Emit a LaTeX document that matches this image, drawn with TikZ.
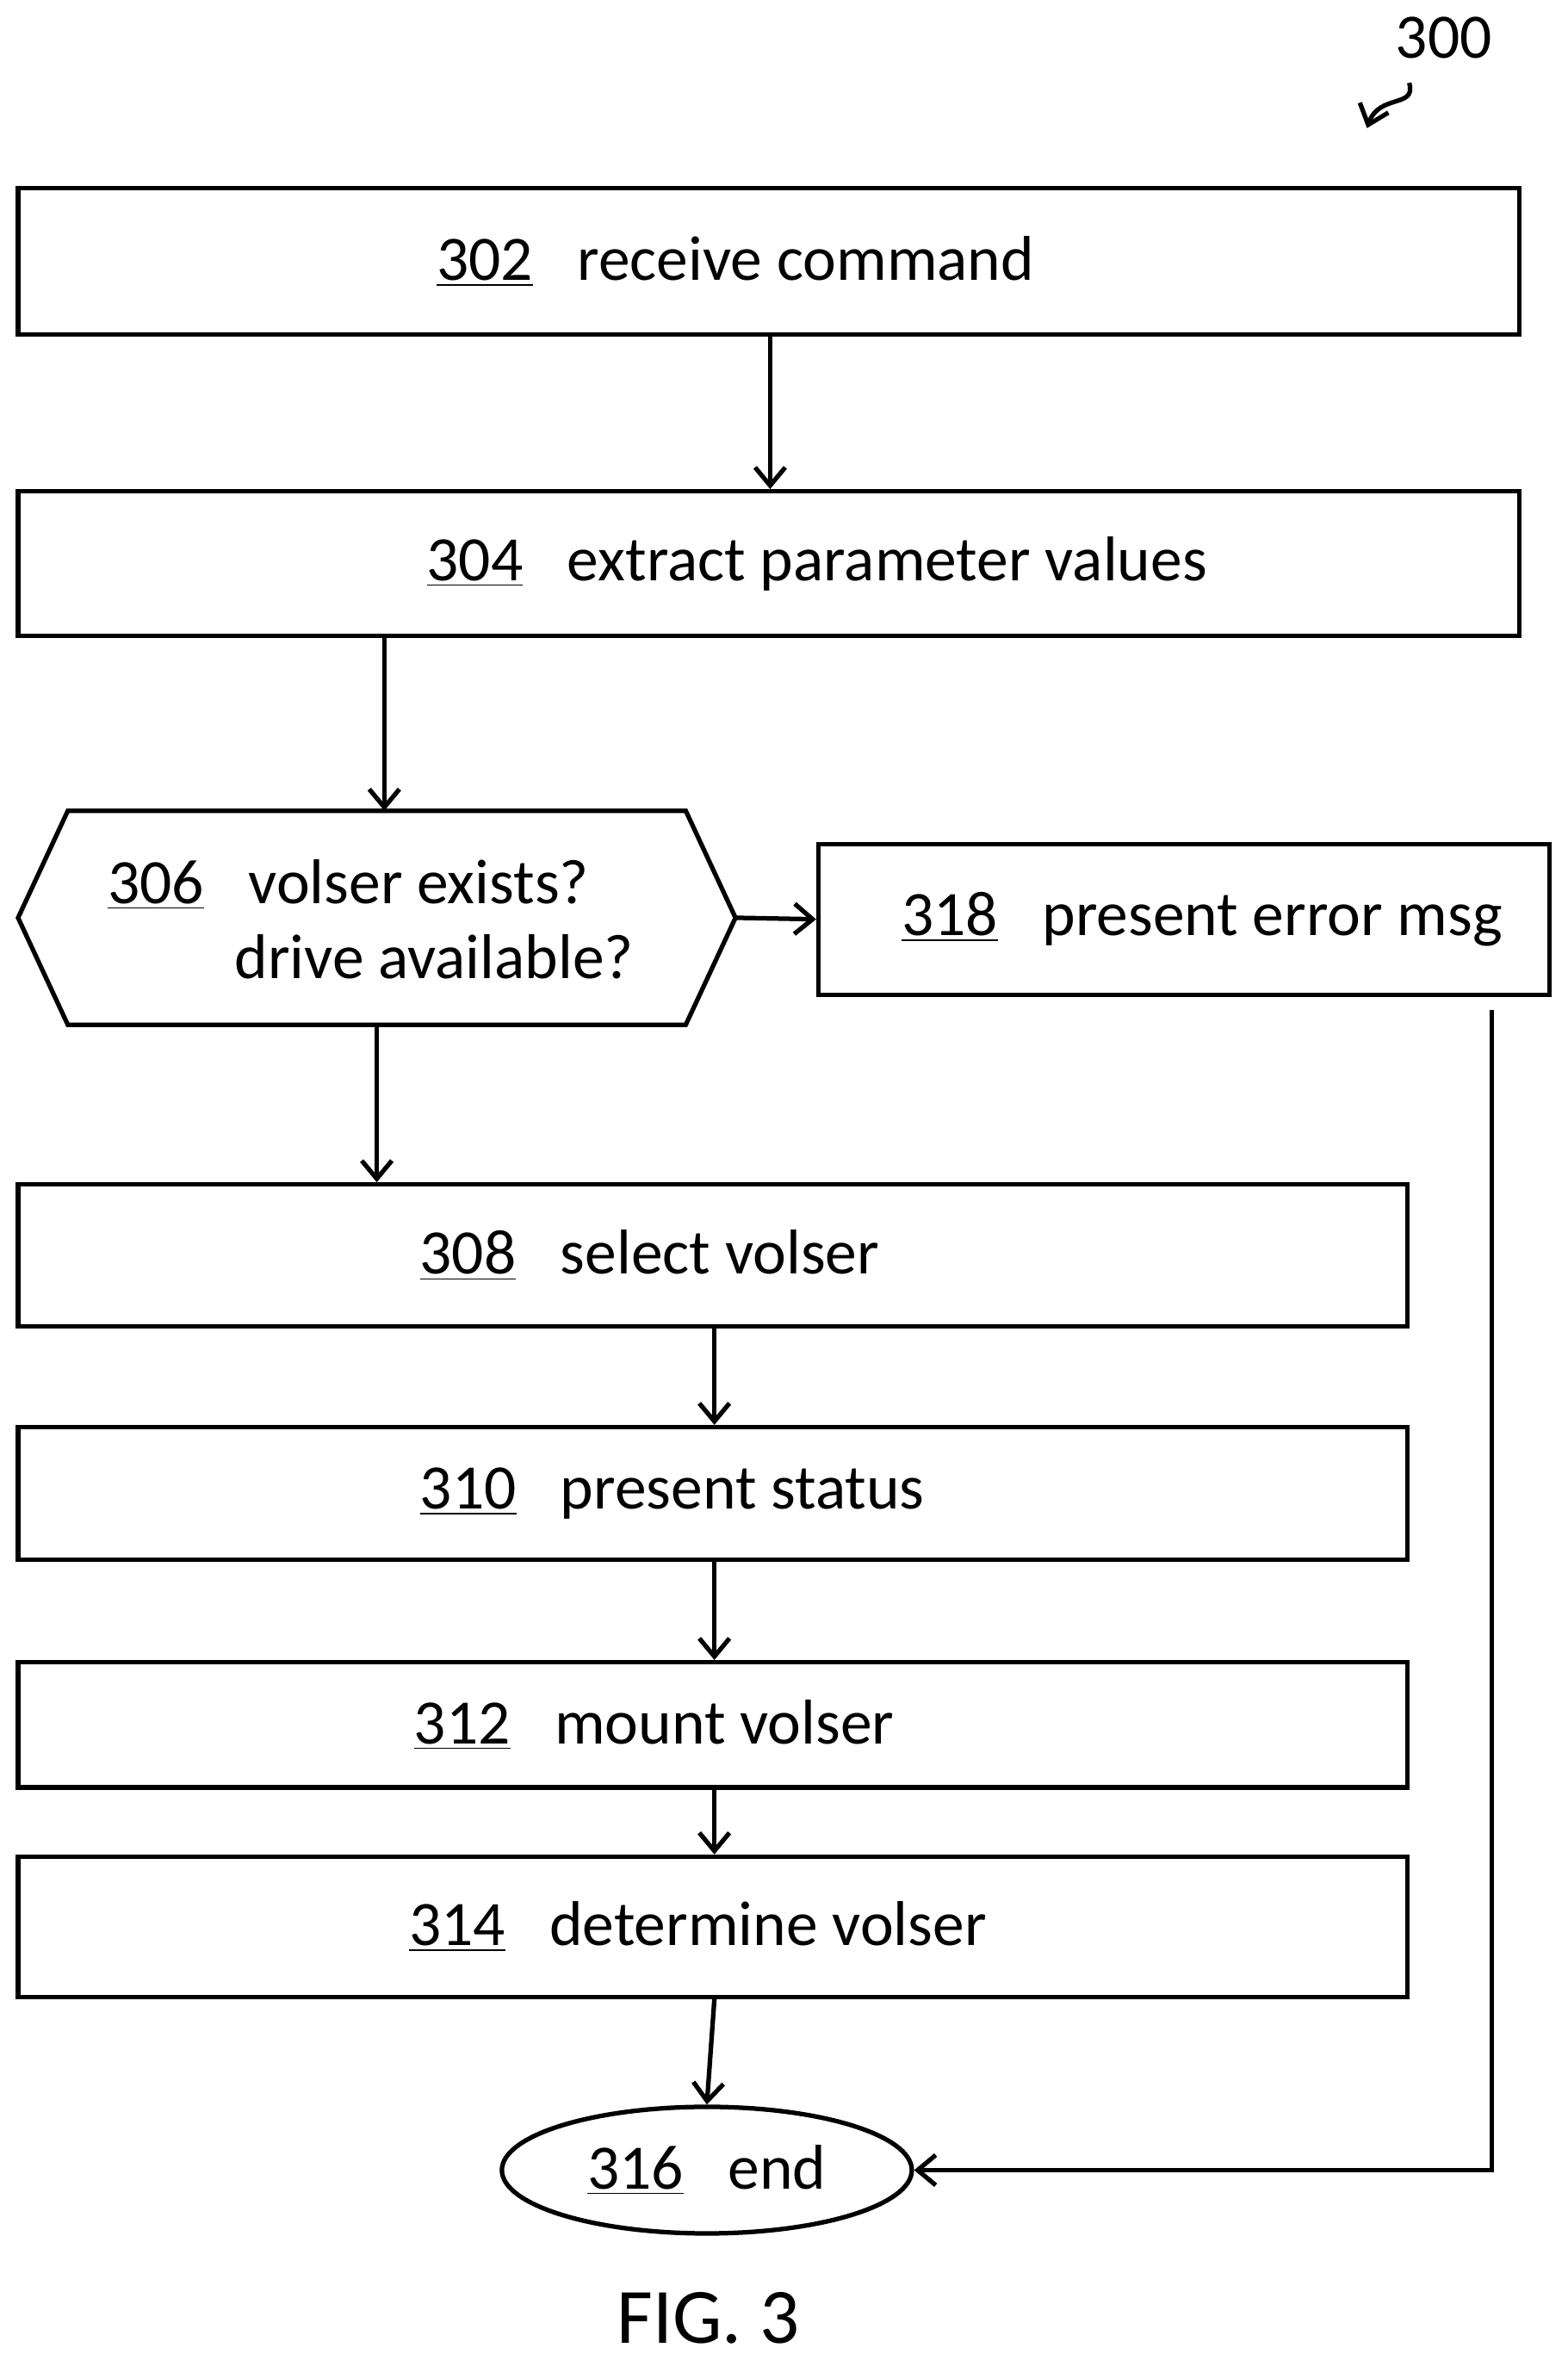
\documentclass[tikz,border=0pt]{standalone}
\usepackage{fontspec}
\setmainfont{Carlito}
\usetikzlibrary{arrows.meta,shapes.geometric}
\begin{document}
\begin{tikzpicture}[x=0.5pt,y=-0.5pt,
  box/.style={draw,line width=1.5pt,inner sep=0pt},
  arr/.style={-{Straight Barb[length=6pt,width=10pt]},line width=1.5pt},
  ln/.style={line width=1.5pt},
  every node/.style={font=\fontsize{21}{25}\selectfont}]
\useasboundingbox (0,0) rectangle (1040,1566);
\node[box,minimum width=498pt,minimum height=48.5pt] (b302) at (510,173.5) {\underline{302}\hspace{0.7em}receive command\hspace*{22pt}};
\node[box,minimum width=498pt,minimum height=48pt] (b304) at (510,374) {\hspace*{32pt}\underline{304}\hspace{0.7em}extract parameter values};
\coordinate (hL) at (12,609); \coordinate (hR) at (488,609);
\draw[ln] (hL) -- (45,538) -- (455,538) -- (hR) -- (455,680) -- (45,680) -- cycle;
\coordinate (hT) at (255,538); \coordinate (hB) at (250,680);
\node[align=left] (b306) at (246,610) {\underline{306}\hspace{0.7em}volser exists?\\\hspace{2.0em}drive available?};
\node[box,minimum width=242.5pt,minimum height=50pt] (b318) at (785.5,610) {\hspace*{12pt}\underline{318}\hspace{0.7em}present error msg};
\node[box,minimum width=461pt,minimum height=47pt] (b308) at (473,833) {\underline{308}\hspace{0.7em}select volser\hspace*{42pt}};
\node[box,minimum width=461pt,minimum height=44pt] (b310) at (473,991) {\underline{310}\hspace{0.7em}present status\hspace*{27pt}};
\node[box,minimum width=461pt,minimum height=41.5pt] (b312) at (473,1144.5) {\underline{312}\hspace{0.7em}mount volser\hspace*{39pt}};
\node[box,minimum width=461pt,minimum height=46.5pt] (b314) at (473,1278.5) {\underline{314}\hspace{0.7em}determine volser\hspace*{10pt}};
\node[draw,ellipse,line width=1.5pt,minimum width=136pt,minimum height=42pt,inner sep=0pt] (b316) at (469,1440) {\underline{316}\hspace{0.7em}end};
\node[font=\fontsize{26}{30}\selectfont] (fig) at (470,1538) {FIG. 3};
\node (n300) at (958,25) {300};
\coordinate (c300) at (935,55);
\draw[arr] (c300) .. controls (940,72) and (915,62) .. (907,85);
\draw[arr] (b302.south -| 511,0) -- (b304.north -| 511,0);
\draw[arr] (b304.south -| hT) -- (hT);
\draw[arr] (hR) -- (b318.west);
\draw[arr] (hB) -- (b308.north -| hB);
\draw[arr] (b308.south -| 474,0) -- (b310.north -| 474,0);
\draw[arr] (b310.south -| 474,0) -- (b312.north -| 474,0);
\draw[arr] (b312.south -| 474,0) -- (b314.north -| 474,0);
\draw[arr] (b314.south -| 474,0) -- (b316.north);
\coordinate (e318) at (990,670);
\draw[arr] (e318) -- (990,1440) -- (b316.east);
\end{tikzpicture}
\end{document}
